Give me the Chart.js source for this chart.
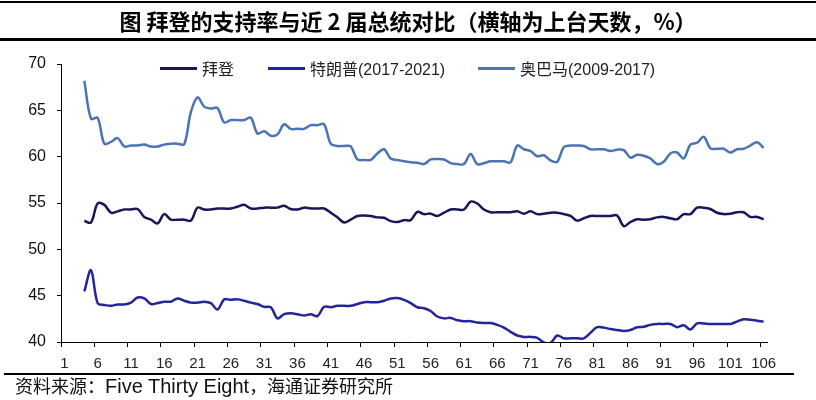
<!DOCTYPE html>
<html>
<head>
<meta charset="utf-8">
<script src="https://cdn.jsdelivr.net/npm/chart.js@4"></script>
<style>
  html, body { margin: 0; padding: 0; background: #fff; }
  #wrap { position: relative; width: 816px; height: 400px; overflow: hidden; font-family: "Liberation Sans", "Noto Sans CJK SC", sans-serif; }
  canvas { position: absolute; left: 0; top: 0; }
  .rule { position: absolute; left: 0; width: 816px; background: #000; }
  #title { position: absolute; left: 0; top: 6px; width: 816px; text-align: center; font-size: 22px; font-weight: bold; line-height: 28px; color: #000; font-family: "Noto Sans CJK SC", "Liberation Sans", sans-serif; }
  #legend { position: absolute; left: 0; top: 58px; height: 20px; width: 816px; }
  .lg { position: absolute; top: 0; height: 20px; display: flex; align-items: center; font-size: 16px; color: #222; white-space: nowrap; }
  .lg i { display: inline-block; width: 37px; height: 3px; margin-right: 5px; }
  #source { position: absolute; left: 15px; top: 375px; font-size: 18px; line-height: 22px; color: #111; white-space: nowrap; }
  #source span { font-size: 20px; }
</style>
</head>
<body>
<div id="wrap">
  <canvas id="c" width="816" height="400"></canvas>
  <div class="rule" style="top:1px;height:2px;"></div>
  <div id="title">图 拜登的支持率与近 2 届总统对比（横轴为上台天数，%）</div>
  <div class="rule" style="top:38px;height:3px;"></div>
  <div id="legend"></div>
  <div class="rule" style="top:373px;height:2px;left:4px;width:790px;"></div>
  <div id="source">资料来源：<span>Five Thirty Eight</span>，海通证券研究所</div>
</div>
<script>
const days = [1,2,3,4,5,6,7,8,9,10,11,12,13,14,15,16,17,18,19,20,
  21,22,23,24,25,26,27,28,29,30,31,32,33,34,35,36,37,38,39,40,
  41,42,43,44,45,46,47,48,49,50,51,52,53,54,55,56,57,58,59,60,
  61,62,63,64,65,66,67,68,69,70,71,72,73,74,75,76,77,78,79,80,
  81,82,83,84,85,86,87,88,89,90,91,92,93,94,95,96,97,98,99,100,
  101,102,103,104,105,106];

const seriesNames = ['拜登', '特朗普(2017-2021)', '奥巴马(2009-2017)'];

const biden = [null,null,null,
  53.05,52.9,54.95,54.8,53.95,54.1,54.3,54.3,54.35,53.5,53.2,52.8,53.8,53.2,53.2,53.2,53.1,
  54.5,54.3,54.3,54.4,54.4,54.4,54.6,54.8,54.4,54.4,54.5,54.5,54.5,54.7,54.35,54.3,54.5,54.4,54.4,54.4,
  53.95,53.45,52.9,53.2,53.6,53.65,53.6,53.45,53.4,53.05,52.95,53.15,53.15,54.05,53.8,53.85,53.6,53.95,54.3,54.3,
  54.3,55.15,54.95,54.3,54.0,54.0,54.0,54.0,54.1,53.85,54.1,53.8,53.85,53.95,53.95,53.8,53.6,53.1,53.35,53.6,
  53.6,53.6,53.6,53.65,52.5,52.95,53.25,53.2,53.25,53.45,53.5,53.35,53.25,53.8,53.8,54.5,54.5,54.35,53.95,53.8,
  53.85,54.0,54.0,53.5,53.5,53.25];

const trump = [null,null,null,
  45.45,47.75,44.2,44.0,43.9,44.05,44.05,44.25,44.8,44.7,44.1,44.2,44.35,44.35,44.7,44.45,44.25,
  44.25,44.35,44.2,43.5,44.6,44.55,44.6,44.45,44.25,44.1,43.8,43.75,42.55,43.0,43.1,43.0,42.85,43.0,42.8,43.8,
  43.75,43.9,43.9,43.9,44.1,44.3,44.3,44.3,44.45,44.7,44.75,44.55,44.2,43.75,43.65,43.35,42.75,42.55,42.6,42.35,
  42.25,42.25,42.1,42.05,42.05,41.85,41.55,41.1,40.7,40.55,40.55,40.45,39.95,39.9,40.7,40.4,40.4,40.4,40.4,41.0,
  41.6,41.55,41.4,41.3,41.2,41.3,41.6,41.65,41.85,41.95,41.95,41.95,41.6,41.8,41.35,42.0,42.0,41.95,41.95,41.95,
  41.95,42.2,42.45,42.4,42.3,42.2];

const obama = [null,null,null,
  68.2,64.1,64.2,61.4,61.6,62.0,61.1,61.2,61.2,61.3,61.1,61.1,61.3,61.4,61.4,61.35,64.8,
  66.4,65.4,65.2,65.25,63.7,63.95,63.95,63.95,64.2,62.5,62.75,62.25,62.4,63.5,63.0,63.0,63.0,63.4,63.4,63.5,
  61.4,61.15,61.15,61.1,59.7,59.65,59.65,60.35,60.8,59.8,59.65,59.5,59.4,59.35,59.2,59.7,59.75,59.7,59.3,59.2,
  59.2,60.3,59.2,59.3,59.5,59.5,59.5,59.4,61.2,60.8,60.6,60.05,60.15,59.6,59.45,61.05,61.2,61.2,61.15,60.8,
  60.8,60.8,60.6,60.75,60.7,59.9,60.2,60.1,59.8,59.2,59.45,60.35,60.45,59.8,61.3,61.5,62.15,60.9,60.85,60.85,
  60.45,60.8,60.85,61.2,61.55,60.95];

const yTicks = [40, 45, 50, 55, 60, 65, 70];

const colors = ['#17175a', '#25259a', '#4b73b7'];
const legendLeft = [160, 268, 478];

const values = [biden, trump, obama];
const datasets = values.map((d, i) => ({
  label: seriesNames[i],
  data: d,
  borderColor: colors[i],
  backgroundColor: colors[i],
  borderWidth: 2.5,
  pointRadius: 0,
  tension: 0.35,
  spanGaps: false,
  fill: false
}));

// HTML legend
const lg = document.getElementById('legend');
seriesNames.forEach((n, i) => {
  const d = document.createElement('div');
  d.className = 'lg';
  d.style.left = legendLeft[i] + 'px';
  d.innerHTML = '<i style="background:' + colors[i] + '"></i>' + n;
  lg.appendChild(d);
});

new Chart(document.getElementById('c'), {
  type: 'line',
  data: { labels: days, datasets },
  options: {
    responsive: false,
    animation: false,
    events: [],
    layout: { padding: { left: 0, right: 49, top: 64, bottom: 0 } },
    plugins: { legend: { display: false }, title: { display: false }, tooltip: { enabled: false } },
    scales: {
      x: {
        type: 'category',
        offset: true,
        afterFit: s => { s.height = 58; },
        grid: {
          offset: true,
          drawOnChartArea: false,
          drawTicks: true,
          tickLength: 5,
          color: ctx => (ctx.index % 5 === 0 ? '#000' : 'rgba(0,0,0,0)'),
          lineWidth: 1
        },
        border: { display: true, color: '#000', width: 1 },
        ticks: {
          autoSkip: false,
          maxRotation: 0,
          minRotation: 0,
          padding: 8,
          color: '#222',
          font: { family: 'Liberation Sans', size: 15 },
          callback: (v, i) => (i % 5 === 0 ? String(days[i]) : '')
        }
      },
      y: {
        min: yTicks[0],
        max: yTicks[yTicks.length - 1],
        afterFit: s => { s.width = 61; },
        afterBuildTicks: s => { s.ticks = yTicks.map(v => ({ value: v })); },
        grid: { drawOnChartArea: false, drawTicks: true, tickLength: 4, color: '#000' },
        border: { display: true, color: '#000', width: 1 },
        ticks: {
          padding: 11,
          color: '#111',
          font: { family: 'Liberation Sans', size: 16 }
        }
      }
    }
  }
});
</script>
</body>
</html>
